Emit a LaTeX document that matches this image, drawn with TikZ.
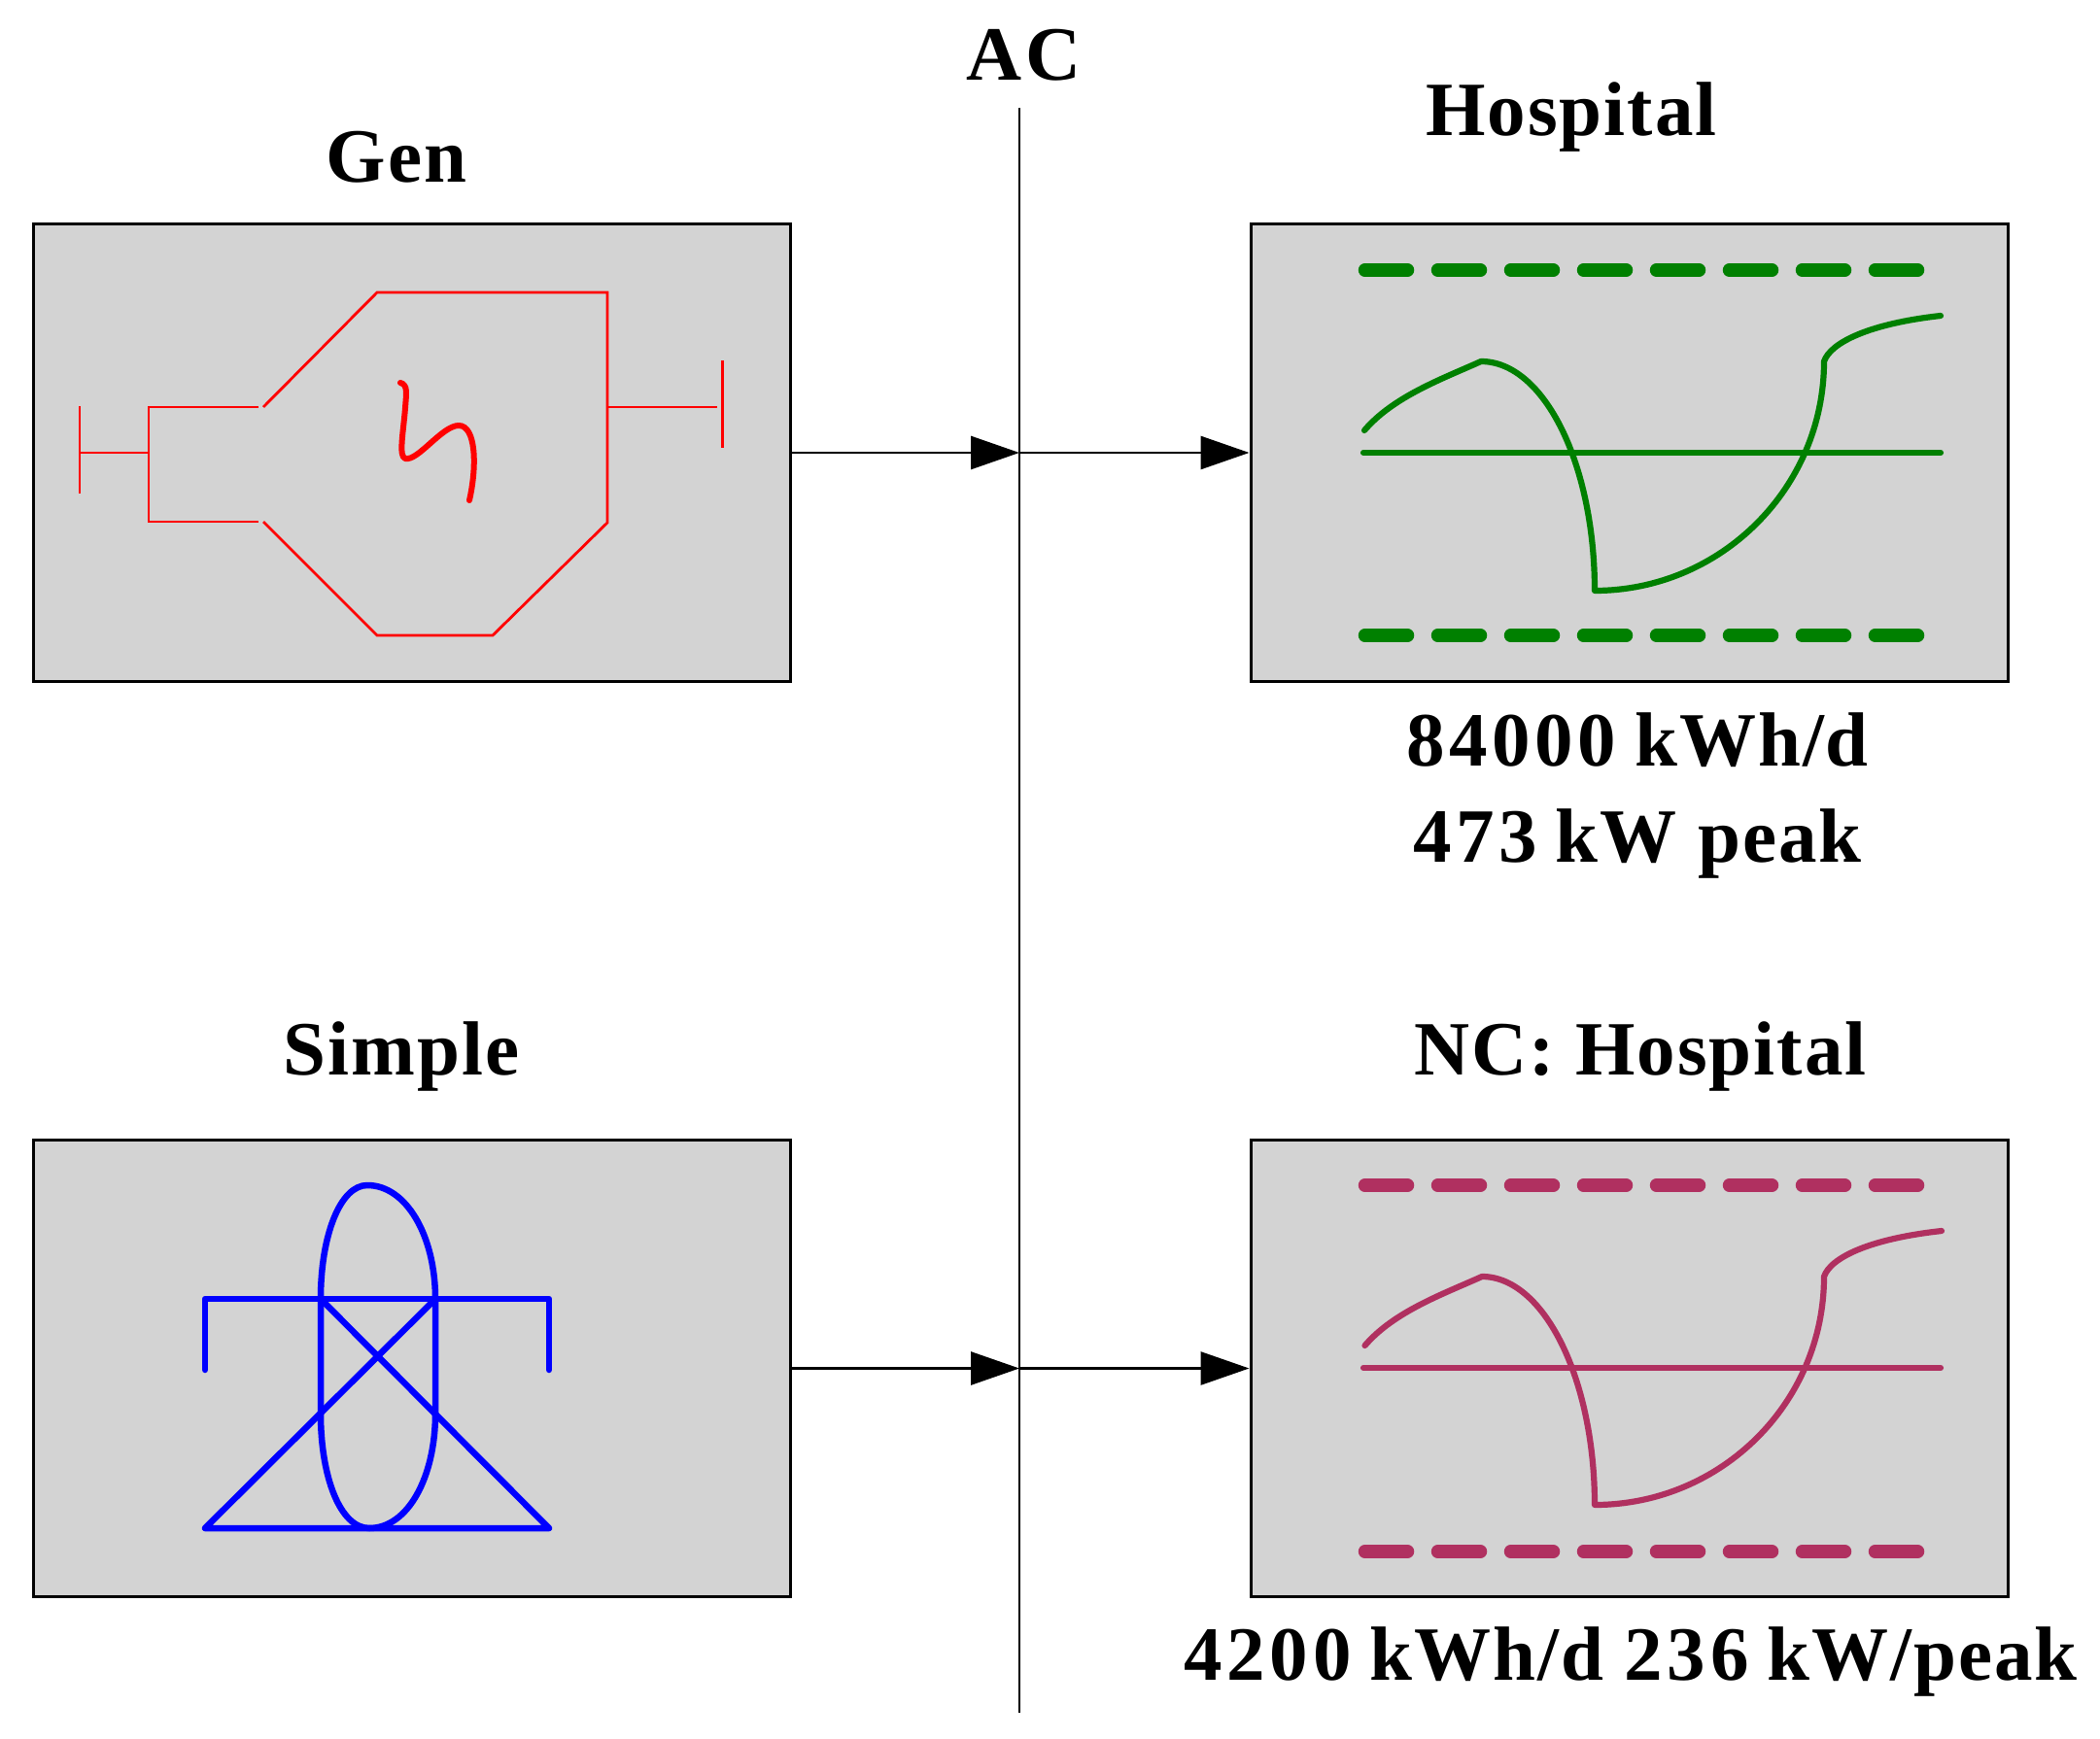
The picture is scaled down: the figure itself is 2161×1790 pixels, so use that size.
\documentclass[tikz,border=0pt]{standalone}
\usepackage{fontspec}
\setmainfont{Liberation Serif}[Ligatures=NoCommon]
\usetikzlibrary{arrows.meta}
\definecolor{panelgray}{HTML}{D3D3D3}
\definecolor{gengreen}{HTML}{008000}
\definecolor{ncmaroon}{HTML}{B03060}
\newfontfamily\labelfont{Liberation Serif Bold}[LetterSpace=2.5]
\newfontfamily\digitfont{Liberation Serif Bold}[LetterSpace=6]
\newcommand{\dg}[1]{{\digitfont #1}}
\tikzset{
  panel/.style={draw=black,line width=3pt,fill=panelgray,inner sep=0pt,minimum width=779pt,minimum height=470pt},
  lab/.style={inner sep=0pt,anchor=base,font=\fontsize{79pt}{79pt}\labelfont},
  link/.style={line width=2.8pt,-{Triangle[length=50pt,width=34pt]}},
  busline/.style={line width=2.8pt},
  genline/.style={draw=red,line width=2.8pt},
  genbolt/.style={draw=red,line width=6pt,line cap=round,line join=round},
  towerline/.style={draw=blue,line width=6.5pt,line join=round,line cap=round},
  limitline/.style={line width=13.5pt,line cap=round,dash pattern=on 44pt off 31pt},
  waveline/.style={line width=6.2pt,line cap=round,line join=round},
}
\begin{document}
\begin{tikzpicture}[x=1pt,y=-1pt]
\useasboundingbox (0,0) rectangle (2161,1790);
% panels
\node[panel] (gen)  at (423.5,466) {};
\node[panel] (hosp) at (1676.5,466) {};
\node[panel] (simple) at (423.5,1408.5) {};
\node[panel] (nc)   at (1676.5,1408.5) {};
% bus
\coordinate (bustop) at (1049,111);
\coordinate (busbot) at (1049,1763);
\draw[busline] (bustop) -- (busbot);
\coordinate (j1) at (1049,466);
\coordinate (j2) at (1049,1408.5);
\draw[link] (gen.east) -- (j1);
\draw[link] (j1) -- (hosp.west);
\draw[link] (simple.east) -- (j2);
\draw[link] (j2) -- (nc.west);
% generator symbol
\draw[genline] (82,418) -- (82,508);
\draw[genline] (82,466) -- (153,466);
\draw[genline] (266,419) -- (153,419) -- (153,537) -- (266,537);
\draw[genline] (271,419) -- (388,301) -- (625,301) -- (625,538) -- (507,654) -- (388,654) -- (271,537);
\draw[genline] (625,419) -- (738,419);
\draw[genline] (743.5,371) -- (743.5,461);
\draw[genbolt] (412,394) .. controls (420,396) and (418,405) .. (417,420)
  .. controls (415,445) and (410,470) .. (417,472)
  .. controls (430,475) and (455,438) .. (472,438)
  .. controls (490,438) and (491,480) .. (483,515);
% hospital waveform
\draw[gengreen,limitline] (1404.5,278) -- (1974,278);
\draw[gengreen,limitline] (1404.5,654) -- (1974,654);
\draw[gengreen,waveline] (1403,466) -- (1997,466);
\draw[gengreen,waveline] (1404,443) .. controls (1434,408) and (1484,390) .. (1524,372)
  .. controls (1589,372) and (1641,478) .. (1641,608)
  .. controls (1771,608) and (1877,502) .. (1877,372)
  .. controls (1884,352) and (1925,333) .. (1997,325);
% tower symbol
\draw[towerline] (211,1410) -- (211,1337) -- (565,1337) -- (565,1410);
\draw[towerline] (448,1337) -- (211,1573) -- (565,1573) -- (330,1337);
\draw[towerline] (330,1455) -- (330,1337) .. controls (330,1272) and (350,1220) .. (378,1220)
  .. controls (418,1220) and (448,1272) .. (448,1337) -- (448,1455)
  .. controls (448,1520) and (420,1573) .. (380,1573)
  .. controls (350,1573) and (330,1520) .. (330,1455);
% NC waveform
\draw[ncmaroon,limitline] (1404.5,1220) -- (1974,1220);
\draw[ncmaroon,limitline] (1404.5,1597) -- (1974,1597);
\draw[ncmaroon,waveline] (1403,1408) -- (1997,1408);
\draw[ncmaroon,waveline] (1404.5,1385) .. controls (1434.5,1350) and (1485,1332) .. (1525,1314)
  .. controls (1589,1314) and (1641,1420) .. (1641,1549)
  .. controls (1771,1549) and (1877,1444) .. (1877,1314)
  .. controls (1884,1294) and (1925,1275) .. (1998,1267);
% labels
\node[lab] (tac) at (1054,83) {A\kern4pt C};
\node[lab] (tgen) at (408,188) {Gen};
\node[lab] (thosp) at (1617,139.5) {Hospital};
\node[lab] (tsimple) at (413,1106) {Simple};
\node[lab] (tnc) at (1688,1106) {NC: Hospital};
\node[lab] (tl1) at (1685,788) {\dg{84000}\kern-3pt{} kWh/d};
\node[lab] (tl2) at (1685,887) {\dg{473}\kern-3pt{} kW peak};
\node[lab] (tl3) at (1678,1729) {\dg{4200}\kern-3pt{} kWh/d \dg{236}\kern-3pt{} kW/peak};
\end{tikzpicture}
\end{document}
